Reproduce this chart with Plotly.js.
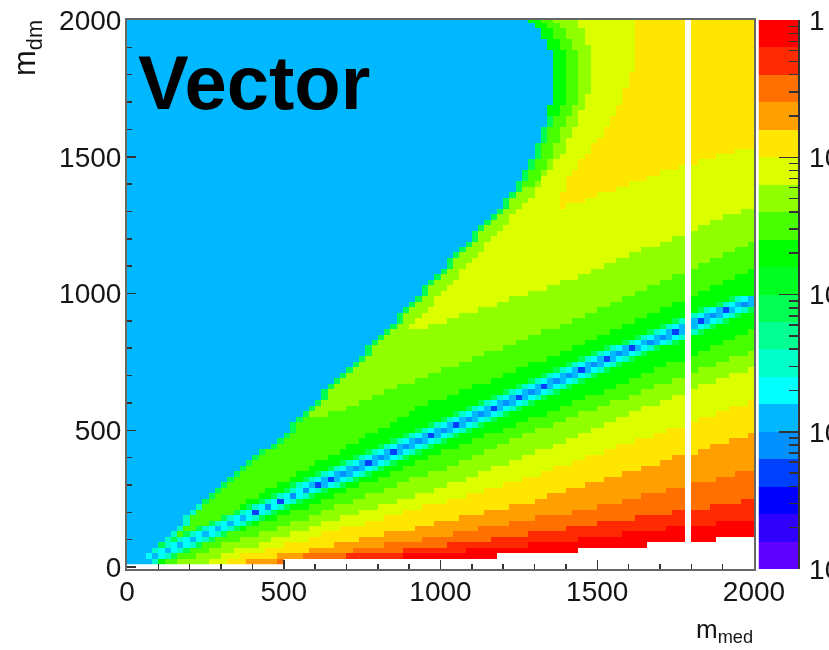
<!DOCTYPE html>
<html><head><meta charset="utf-8">
<script src="https://cdn.plot.ly/plotly-3.0.1.min.js"></script>
<style>html,body{margin:0;padding:0;background:#fff;overflow:hidden}#c{width:829px;height:650px;filter:blur(0.6px)}</style>
</head><body><div id="c"></div>
<script>
// colour bands, top of the colour bar (1) to bottom (20)
const bandColors=['#ff0000','#ff2a00','#ff7000','#ffa000','#ffe600','#dcff00','#90ff00','#48ff00','#00ff00','#00ff20','#00ff50','#00ff90','#00ffc8','#00ffff','#00b8ff','#0090ff','#0040ff','#0000ff','#3000ff','#6000ff'];
const barEdges=[1e-4,1.585e-4,2.512e-4,3.981e-4,6.31e-4,1e-3,1.585e-3,2.512e-3,3.981e-3,6.31e-3,1e-2,1.585e-2,2.512e-2,3.981e-2,6.31e-2,0.1,0.1585,0.2512,0.3981,0.631,1];
const barBands=[20,19,18,17,16,15,14,13,12,11,10,9,8,7,6,5,4,3,2,1];
const barMajor=[1e-4,1e-3,1e-2,1e-1,1];
const barLabels=['10','10','10','10','1'];
const barMinor=[2e-4,3e-4,4e-4,5e-4,6e-4,7e-4,8e-4,9e-4,2e-3,3e-3,4e-3,5e-3,6e-3,7e-3,8e-3,9e-3,2e-2,3e-2,4e-2,5e-2,6e-2,7e-2,8e-2,9e-2,0.2,0.3,0.4,0.5,0.6,0.7,0.8,0.9];

// m_med edges per m_dm row; each list starts at the m_dm given in its name
const blueEdge20=[73,57,78,100,121,139,158,178,190,206,224,243,265,284,302,318,338,360,382,402,424,453,473,492,515,530,545,560,577,595,612,630,647,665,682,700,717,735,752,770,787,805,822,838,855,870,886,902,918,934,950,966,982,998,1014,1030,1046,1062,1078,1094,1110,1126,1142,1158,1178,1194,1210,1226,1240,1250,1258,1266,1276,1284,1292,1300,1308,1316,1320,1328,1334,1340,1346,1350,1354,1358,1362,1364,1366,1366,1366,1362,1358,1352,1344,1336,1326,1316,1304,1290];
const upper8End120=[216,250,288,324,345,365,390,418,450,482,514,545,577,609,641,673,705,736,768,800,832,864,896,927,970,1016,1061,1107,1152,1198,1243,1289,1334,1380,1420,1460,1500,1540,1580,1620,1660,1700,1735,1775,1815,1855,1895,1935,1975,2010];
const upper7End560=[650,695,739,783,826,870,914,960,1006,1052,1098,1145,1191,1237,1283,1330,1375,1415,1455,1495,1535,1575,1620,1660,1700,1740,1785,1825,1865,1905,1945,1990];
const upper6Start860=[892,908,925,940,956,972,988,1004,1020,1036,1052,1068,1084,1100,1116,1132,1148,1164,1180,1196,1212,1228,1248,1264,1280,1296,1310,1320,1328,1340,1355,1368,1382,1392,1400,1410,1420,1428,1436,1444,1450,1456,1460,1468,1474,1478,1484,1488,1490,1490,1488,1484,1474,1466,1460,1454,1450,1444];
const upper6End860=[908,960,1015,1070,1125,1175,1230,1285,1340,1390,1435,1480,1520,1565,1610,1650,1695,1740,1785,1825,1870,1910,1955,1995];
const upper5Start1300=[1365,1372,1378,1385,1392,1400,1408,1420,1434,1448,1462,1476,1490,1503,1514,1525,1535,1545,1555,1563,1572,1578,1585,1592,1598,1605,1612,1620,1626,1626,1626,1626,1626,1626,1626,1626];
const upper5End1300=[1365,1410,1460,1510,1560,1610,1660,1710,1760,1830,1890,1950,2000];
const dipCentre40=[90,125,165,205,245,285,325,365,405,445,485,525,565,605,645,685,725,765,805,845,885,925,965,1005,1045,1085,1125,1165,1205,1245,1285,1320,1360,1403,1445,1488,1531,1574,1617,1660,1703,1746,1789,1832,1875,1918,1961,2000];
const dipCore40=[15,15,15,15,15,15,15,15,17,16,17,16,16,17,17,16,16,17,16,17,16,16,17,16,17,16,16,17,16,17,16,17,16,16,17,16,17,16,17,16,16,17,16,17,16,17,16,16];
const haloNarrow=[15,14,13,11];
const haloWide=[15,15,14,13,11];
const lower8Start20=[125,165,205,245,285,330,375,430,490,530,575,620,665,705,750,795,835,880,925,970,1010,1055,1100,1150,1195,1240,1285,1335,1380,1425,1470,1515,1555,1600,1645,1685,1730,1775,1815,1860,1900,1945,1990];
const lower7Start20=[170,220,265,310,360,425,480,525,575,625,670,720,770,815,860,910,955,1015,1055,1100,1140,1185,1230,1270,1310,1357,1405,1450,1500,1545,1595,1640,1690,1735,1785,1830,1880,1925,1975];
const lower6Start20=[254,310,350,415,470,520,575,630,690,745,805,860,920,975,1030,1075,1120,1170,1215,1260,1310,1353,1395,1440,1480,1525,1565,1610,1650,1695,1740,1780,1830,1880,1930,1985];
const lower5Start20=[313,370,446,509,573,625,690,755,815,880,950,1020,1085,1145,1205,1260,1315,1365,1415,1470,1520,1570,1625,1675,1730,1780,1830,1880,1930,1980];
const lower4Start20=[376,477,574,669,749,828,913,988,1067,1147,1227,1291,1350,1408,1466,1525,1583,1642,1700,1742,1822,1859,1923,1976];
const lower3Start20=[477,557,711,828,950,1046,1126,1222,1307,1424,1509,1585,1642,1722,1783,1881,1939];
const lower2Start40=[695,890,1030,1168,1285,1402,1503,1624,1742,1859,1965];
const lower1Start40=[873,1088,1285,1445,1583,1722,1881];
const emptyFrom20=[510,1190,1445,1662,1881];
const emptyColumn=[1780,1800];

const at=(list,first,m)=>{const k=(m-first)/20;return k>=0&&k<list.length?list[k]:undefined;};
const xEdges=[],yEdges=[],z=[];
for(let i=0;i<=100;i++){xEdges.push(i*20);yEdges.push(10+i*20);}
for(let r=0;r<100;r++){
  const m=20+r*20,row=[];
  const blue=blueEdge20[r];
  const dip=at(dipCentre40,40,m),core=at(dipCore40,40,m);
  const end8=m>1080?Infinity:at(upper8End120,120,m);
  const end7=m>1180?Infinity:at(upper7End560,560,m);
  const start6=at(upper6Start860,860,m),end6=m>1320?Infinity:at(upper6End860,860,m);
  const start5=at(upper5Start1300,1300,m),end5=m>1540?Infinity:at(upper5End1300,1300,m);
  const halo=m>=300?haloWide:haloNarrow;
  const lows=[[lower8Start20,20,8],[lower7Start20,20,7],[lower6Start20,20,6],[lower5Start20,20,5],[lower4Start20,20,4],[lower3Start20,20,3],[lower2Start40,40,2],[lower1Start40,40,1]];
  const empty=at(emptyFrom20,20,m);
  const thin9=m>=1660?2:1;
  for(let i=0;i<100;i++){
    const c=i*20+10;
    let b=9;
    if(c<blue){row.push(15);continue;}
    if(c<blue+20) b=m<240?13:(m>=1660?9:11);
    const start8=blue+thin9*20;
    const start7=m>=1400?start8+40:start8;
    if(end8!==undefined&&c>=start8&&c<end8) b=8;
    if(end7!==undefined&&c>=start7&&c<end7) b=7;
    if(start6!==undefined&&c>=start6&&c<end6) b=6;
    if(start5!==undefined&&c>=start5&&c<end5) b=5;
    if(dip!==undefined){
      const d=Math.abs(Math.floor(c/20)-Math.floor(dip/20));
      if(d<halo.length) b=d===0?core:halo[d];
    }
    for(const [list,first,band] of lows){
      const e=at(list,first,m);
      if(e!==undefined&&c>=e) b=band;
    }
    if(empty!==undefined&&c>=empty) b=null;
    if(c>=emptyColumn[0]&&c<emptyColumn[1]) b=null;
    row.push(b);
  }
  z.push(row);
}
const scale=bandColors.flatMap((col,i)=>[[i/20,col],[(i+1)/20,col]]);
const W=829,H=650;
const axisFont={family:'"Liberation Sans",Arial,sans-serif',size:28,color:'#151515'};
const traces=[
 {type:'heatmap',x:xEdges,y:yEdges,z:z,xaxis:'x',yaxis:'y',colorscale:scale,zmin:0.5,zmax:20.5,showscale:false,hoverinfo:'skip'},
 {type:'heatmap',x:[0,1],y:barEdges,z:barBands.map(b=>[b]),xaxis:'x2',yaxis:'y2',colorscale:scale,zmin:0.5,zmax:20.5,showscale:false,hoverinfo:'skip'}
];
const layout={
 width:W,height:H,margin:{l:0,r:0,t:0,b:0},paper_bgcolor:'#fff',plot_bgcolor:'#fff',showlegend:false,
 xaxis:{domain:[127/W,754/W],range:[0,2000],anchor:'y',tickmode:'array',tickvals:[0,500,1000,1500,2000],ticktext:['0','500','1000','1500','2000'],ticks:'inside',ticklen:9,tickwidth:1.5,tickcolor:'#333',showgrid:false,zeroline:false,showline:true,linecolor:'#666',linewidth:2,mirror:true,tickfont:axisFont,ticklabelstandoff:-3,
   minor:{tickmode:'array',tickvals:[100,200,300,400,600,700,800,900,1100,1200,1300,1400,1600,1700,1800,1900],ticks:'inside',ticklen:5,tickwidth:1.5,tickcolor:'#333',showgrid:false}},
 yaxis:{domain:[1-568.5/H,1-20/H],range:[-5.5,2000],anchor:'x',tickmode:'array',tickvals:[0,500,1000,1500,2000],ticktext:['0','500','1000','1500','2000'],ticks:'inside',ticklen:9,tickwidth:1.5,tickcolor:'#333',showgrid:false,zeroline:false,showline:true,linecolor:'#666',linewidth:2,mirror:true,tickfont:axisFont,ticklabelstandoff:-2,
   minor:{tickmode:'array',tickvals:[100,200,300,400,600,700,800,900,1100,1200,1300,1400,1600,1700,1800,1900],ticks:'inside',ticklen:5,tickwidth:1.5,tickcolor:'#333',showgrid:false}},
 xaxis2:{domain:[758.5/W,798/W],range:[0,1],anchor:'y2',visible:false},
 yaxis2:{domain:[1-569/H,1-20/H],type:'log',range:[-4,0],anchor:'x2',side:'right',tickmode:'array',tickvals:barMajor,ticktext:barLabels,ticks:'inside',ticklen:19,tickwidth:1.5,tickcolor:'#333',showgrid:false,zeroline:false,showline:true,linecolor:'#333',linewidth:1.5,tickfont:axisFont,ticklabelstandoff:4,
   minor:{tickmode:'array',tickvals:barMinor,ticks:'inside',ticklen:9,tickwidth:1.5,tickcolor:'#333',showgrid:false}},
 annotations:[
  {xref:'paper',yref:'paper',x:136/W,y:1-83/H,xanchor:'left',yanchor:'middle',showarrow:false,text:'<b>Vector</b>',font:{family:'"Liberation Sans",Arial,sans-serif',size:76,color:'#000'}},
  {xref:'paper',yref:'paper',x:27/W,y:1-48/H,xanchor:'center',yanchor:'middle',showarrow:false,textangle:-90,text:'m<sub>dm</sub>',font:{family:'"Liberation Sans",Arial,sans-serif',size:31,color:'#151515'}},
  {xref:'paper',yref:'paper',x:724/W,y:1-630/H,xanchor:'center',yanchor:'middle',showarrow:false,text:'m<sub>med</sub>',font:{family:'"Liberation Sans",Arial,sans-serif',size:26,color:'#151515'}}
 ]
};
Plotly.newPlot('c',traces,layout,{staticPlot:true,displayModeBar:false});
</script></body></html>
